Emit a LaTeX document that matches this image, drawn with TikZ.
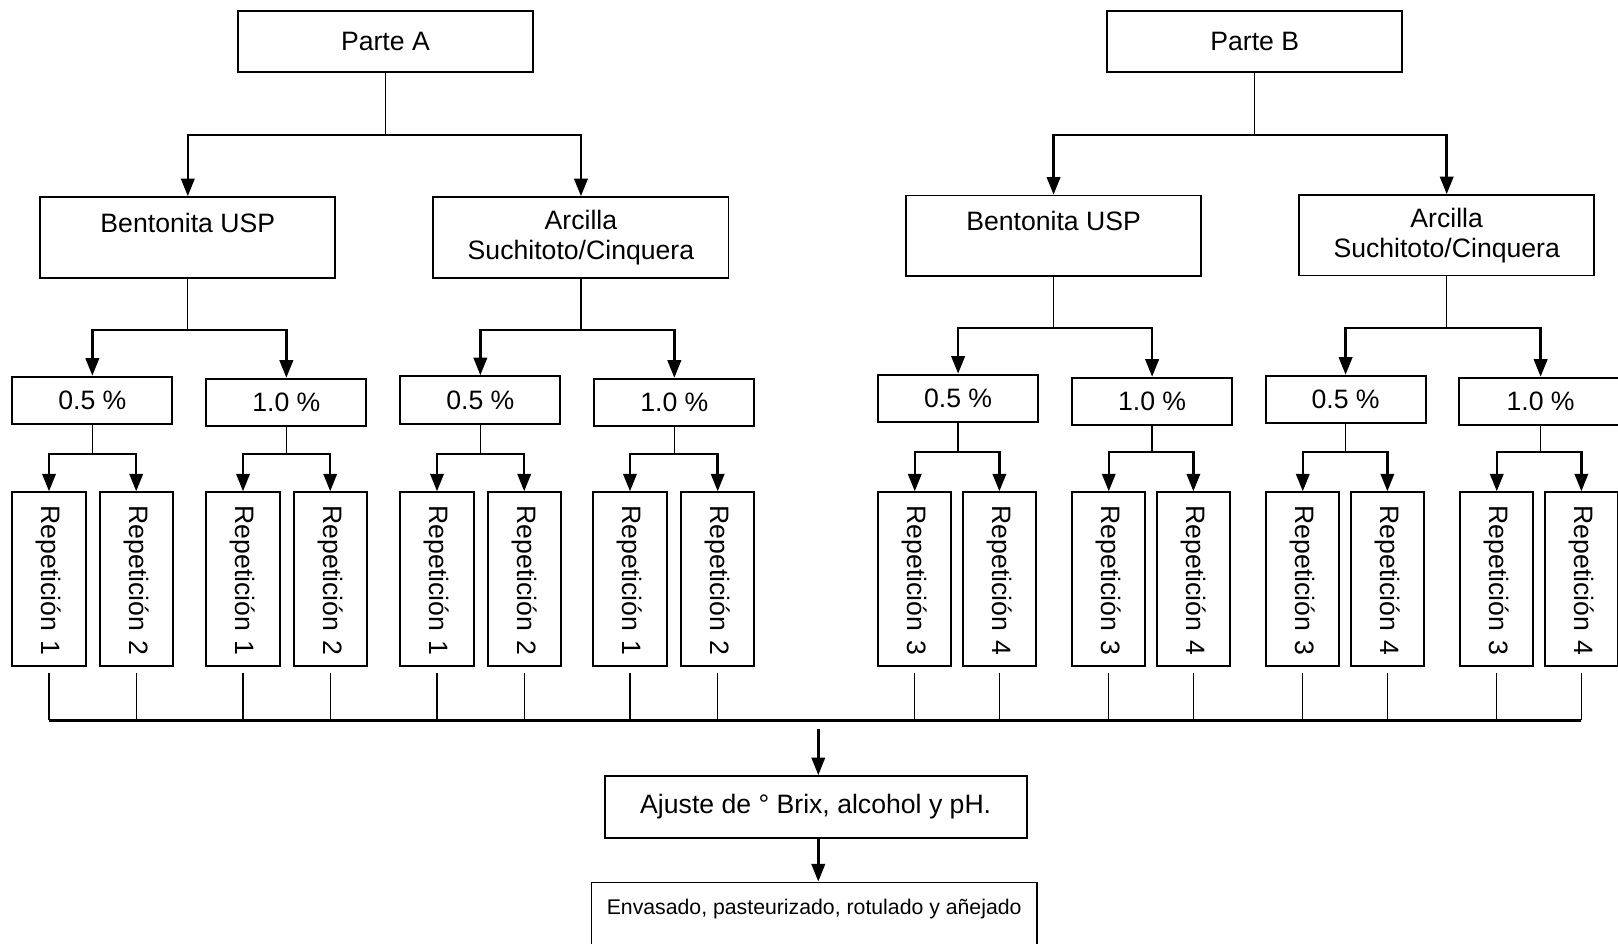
\documentclass[tikz,border=0pt]{standalone}
\usepackage{fontspec}
\setmainfont{Liberation Sans}
\usetikzlibrary{arrows.meta,calc}
\newcommand\bigf{\fontsize{25.8}{29}\selectfont}
\newcommand\smallf{\fontsize{20.6}{32}\selectfont}
\begin{document}
\begin{tikzpicture}[x=1pt,y=-1pt,
  box/.style={draw, line width=1.8pt, font=\bigf, align=center, inner sep=0pt},
  lvlone/.style={box, minimum width=286pt, minimum height=59pt},
  lvltwo/.style={box, minimum width=286pt, minimum height=78pt},
  pct/.style={box, minimum width=155pt, minimum height=46pt},
  rep/.style={draw, line width=1.8pt, font=\bigf, rotate=-90, minimum width=168pt,
    minimum height=71pt, text width=156pt, inner xsep=6pt, inner ysep=0pt, align=left},
  stem/.style={line width=1.3pt},
  fork/.style={line width=2.4pt, {Triangle[width=13pt,length=17pt]}-{Triangle[width=13pt,length=17pt]}},
  arr/.style={line width=2.4pt, -{Triangle[width=13pt,length=17pt]}},
  busline/.style={line width=2.4pt},
]
\useasboundingbox (0,0) rectangle (1568,914);
% level 1
\node[lvlone] (pa) at (373.5,40.5) {Parte A};
\node[lvlone] (pb) at (1216,40.5) {Parte B};
% level 2
\node[lvltwo] (ba) at (182,230) {Bentonita USP\\ \mbox{}};
\node[lvltwo] (ca) at (563,230) {Arcilla\\Suchitoto/Cinquera};
\node[lvltwo] (bb) at (1021,228.5) {Bentonita USP\\ \mbox{}};
\node[lvltwo] (cb) at (1402,228) {Arcilla\\Suchitoto/Cinquera};
% level 3
\node[pct] (a05) at (89.5,388) {0.5 \%};
\node[pct] (a10) at (277.5,390) {1.0 \%};
\node[pct] (c05) at (465.5,387.5) {0.5 \%};
\node[pct] (c10) at (653.5,390) {1.0 \%};
\node[pct] (b05) at (928.5,386) {0.5 \%};
\node[pct] (b10) at (1116.5,389) {1.0 \%};
\node[pct] (d05) at (1304,387) {0.5 \%};
\node[pct, minimum width=158pt] (d10) at (1493,389) {1.0 \%};
% level 4
\newcommand\reptxt[1]{\hspace*{7pt}Repetición~#1}
\node[rep] (r1) at (47.5,561) {\reptxt{1}};
\node[rep] (r2) at (132,561) {\reptxt{2}};
\node[rep] (r3) at (235.5,561) {\reptxt{1}};
\node[rep] (r4) at (320,561) {\reptxt{2}};
\node[rep] (r5) at (423.5,561) {\reptxt{1}};
\node[rep] (r6) at (508,561) {\reptxt{2}};
\node[rep] (r7) at (610.5,561) {\reptxt{1}};
\node[rep] (r8) at (695.5,561) {\reptxt{2}};
\node[rep] (r9) at (886.5,561) {\reptxt{3}};
\node[rep] (r10) at (968.5,561) {\reptxt{4}};
\node[rep] (r11) at (1074.5,561) {\reptxt{3}};
\node[rep] (r12) at (1156.5,561) {\reptxt{4}};
\node[rep] (r13) at (1262.5,561) {\reptxt{3}};
\node[rep] (r14) at (1344.5,561) {\reptxt{4}};
\node[rep] (r15) at (1450.5,561) {\reptxt{3}};
\node[rep] (r16) at (1532.5,561) {\reptxt{4}};
% final
\node[box, minimum width=409pt, minimum height=60pt] (aj) at (790.5,782) {Ajuste de ° Brix, alcohol y pH.};
\node[box, font=\smallf, line width=1.5pt, minimum width=432pt, minimum height=80pt] (env) at (789,895)
  {Envasado, pasteurizado, rotulado y añejado\\ \mbox{}};
% junction levels
\coordinate (ya) at (0,131);
\coordinate (yb) at (0,320);
\coordinate (ybb) at (0,318);
\coordinate (yc) at (0,440);
\coordinate (ycc) at (0,438);
\coordinate (bus) at (0,698);
% level 1 -> 2
\draw[stem] (pa.south) -- (pa.south |- ya);
\draw[fork] (ba.north) |- (pa.south |- ya) -| (ca.north);
\draw[stem] (pb.south) -- (pb.south |- ya);
\draw[fork] (bb.north) |- (pb.south |- ya) -| (cb.north);
% level 2 -> 3
\draw[stem] (ba.south) -- (ba.south |- yb);
\draw[fork] (a05.north) |- (ba.south |- yb) -| (a10.north);
\draw[stem] (ca.south) -- (ca.south |- yb);
\draw[fork] (c05.north) |- (ca.south |- yb) -| (c10.north);
\draw[stem] (bb.south) -- (bb.south |- ybb);
\draw[fork] (b05.north) |- (bb.south |- ybb) -| (b10.north);
\draw[stem] (cb.south) -- (cb.south |- ybb);
\draw[fork] (d05.north) |- (cb.south |- ybb) -| (d10.north);
% level 3 -> 4
\draw[stem] (a05.south) -- (a05.south |- yc);
\draw[fork] (r1.west) |- (a05.south |- yc) -| (r2.west);
\draw[stem] (a10.south) -- (a10.south |- yc);
\draw[fork] (r3.west) |- (a10.south |- yc) -| (r4.west);
\draw[stem] (c05.south) -- (c05.south |- yc);
\draw[fork] (r5.west) |- (c05.south |- yc) -| (r6.west);
\draw[stem] (c10.south) -- (c10.south |- yc);
\draw[fork] (r7.west) |- (c10.south |- yc) -| (r8.west);
\draw[stem] (b05.south) -- (b05.south |- ycc);
\draw[fork] (r9.west) |- (b05.south |- ycc) -| (r10.west);
\draw[stem] (b10.south) -- (b10.south |- ycc);
\draw[fork] (r11.west) |- (b10.south |- ycc) -| (r12.west);
\draw[stem] (d05.south) -- (d05.south |- ycc);
\draw[fork] (r13.west) |- (d05.south |- ycc) -| (r14.west);
\draw[stem] (d10.south) -- (d10.south |- ycc);
\draw[fork] (r15.west) |- (d10.south |- ycc) -| (r16.west);
% collecting lines
\foreach \r in {r1,r2,r3,r4,r5,r6,r7,r8,r9,r10,r11,r12,r13,r14,r15,r16}
  \draw[stem] ($(\r.east)+(0,6)$) -- (\r.east |- bus);
\draw[busline] (r1.east |- bus) -- (r16.east |- bus);
% to final steps
\coordinate (drop) at ($(aj.north)+(2.5,-45)$);
\coordinate (ajout) at ($(aj.south)+(2.5,0)$);
\draw[arr] (drop) -- (drop |- aj.north);
\draw[arr] (ajout) -- (ajout |- env.north);
\end{tikzpicture}
\end{document}
